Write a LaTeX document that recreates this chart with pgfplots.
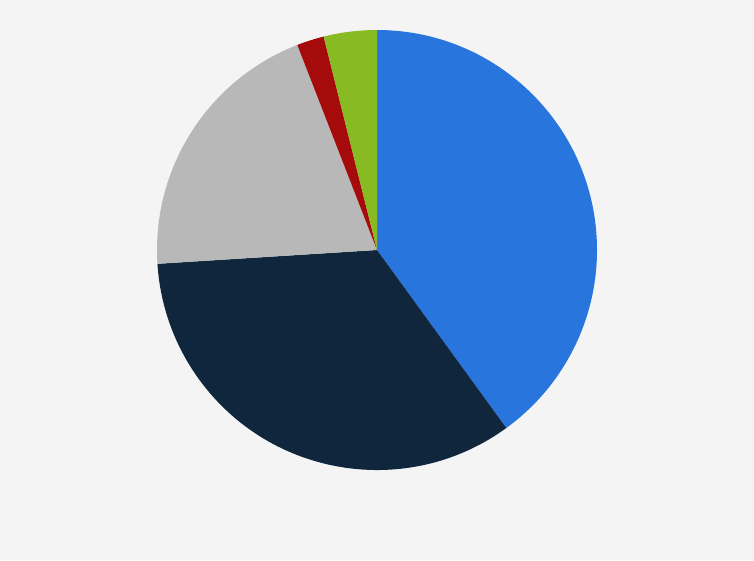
\documentclass[border=0pt]{standalone}
\usepackage{pgfplots}
\pgfplotsset{compat=1.18}

\definecolor{bg}{HTML}{F4F4F4}
\definecolor{sliceA}{HTML}{2876DD}
\definecolor{sliceB}{HTML}{0F263D}
\definecolor{sliceC}{HTML}{B8B8B8}
\definecolor{sliceD}{HTML}{A50B0B}
\definecolor{sliceE}{HTML}{88BA23}

% shares in percent: 40, 34, 20.1, 2, 3.9 (clockwise from 12 o'clock)
% #1 = cumulative start, #2 = cumulative end, #3 = colour
\newcommand{\pieslice}[3]{%
  \fill[#3] (axis cs:0,0) -- ++({90-3.6*#1}:2.2cm)
    arc[start angle={90-3.6*#1}, end angle={90-3.6*#2}, radius=2.2cm] -- cycle;
}

\begin{document}
\begin{tikzpicture}
  \begin{axis}[
    scale only axis,
    width=7.54cm, height=5.6cm,
    xmin=-1.7136, xmax=1.7136,
    ymin=-1.4091, ymax=1.1364,
    hide axis,
  ]
    \fill[bg] (rel axis cs:0,0) rectangle (rel axis cs:1,1);
    \pieslice{0}{40}{sliceA}
    \pieslice{40}{74}{sliceB}
    \pieslice{74}{94.1}{sliceC}
    \pieslice{94.1}{96.1}{sliceD}
    \pieslice{96.1}{100}{sliceE}
  \end{axis}
\end{tikzpicture}
\end{document}
